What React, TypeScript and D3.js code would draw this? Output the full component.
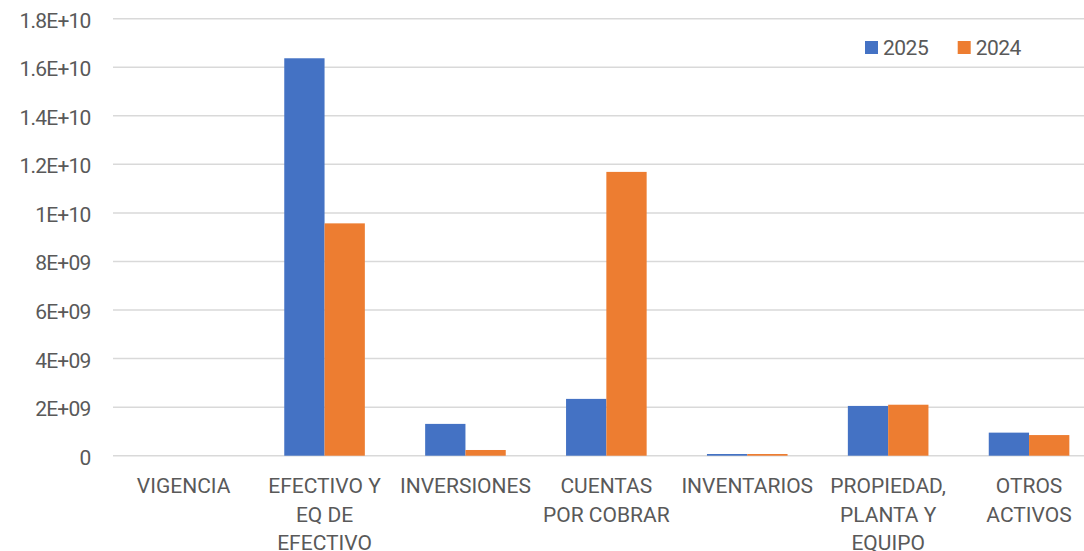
import React from 'react';
import * as d3 from 'd3';

const categories = [
  ['VIGENCIA'],
  ['EFECTIVO Y', 'EQ DE', 'EFECTIVO'],
  ['INVERSIONES'],
  ['CUENTAS', 'POR COBRAR'],
  ['INVENTARIOS'],
  ['PROPIEDAD,', 'PLANTA Y', 'EQUIPO'],
  ['OTROS', 'ACTIVOS'],
];
const series = ['2025', '2024'];
const values2025 = [0, 16.37e9, 1.31e9, 2.34e9, 0.07e9, 2.05e9, 0.95e9];
const values2024 = [0, 9.57e9, 0.235e9, 11.69e9, 0.07e9, 2.1e9, 0.85e9];
const yTicks = [0, 2e9, 4e9, 6e9, 8e9, 1e10, 1.2e10, 1.4e10, 1.6e10, 1.8e10];
const yTickLabels = ['0', '2E+09', '4E+09', '6E+09', '8E+09', '1E+10', '1.2E+10', '1.4E+10', '1.6E+10', '1.8E+10'];
const colors = ['#4472C4', '#ED7D31'];

const W = 1084;
const H = 551;
const FONT = 'Roboto, "Liberation Sans", Arial, sans-serif';

const App: React.FC = () => {
  // plot spans past the right edge of the picture, as in the original
  const x0 = d3.scaleBand<number>()
    .domain(d3.range(categories.length))
    .range([113.2, 1099.5])
    .paddingInner(0.428)
    .paddingOuter(0.214);
  const x1 = d3.scaleBand<string>()
    .domain(series)
    .range([0, x0.bandwidth()]);
  const y = d3.scaleLinear().domain([0, 1.8e10]).range([455.7, 18.7]);
  const color = d3.scaleOrdinal<string, string>().domain(series).range(colors);
  const data = [values2025, values2024];

  return (
    <svg width={W} height={H} style={{ position: 'absolute', left: 0, top: 0, background: '#fff' }}
      fontFamily={FONT}>
      {/* grid + y labels */}
      {yTicks.map((t, i) => (
        <g key={i}>
          <line x1={113} x2={W} y1={y(t)} y2={y(t)} stroke="#D9D9D9" strokeWidth={1.5} />
          <text x={90.5} y={y(t) + 9} textAnchor="end" fontSize={21} letterSpacing={-0.8} fill="#595959">
            {yTickLabels[i]}
          </text>
        </g>
      ))}
      {/* bars */}
      {categories.map((_, ci) => (
        <g key={ci} transform={`translate(${x0(ci)},0)`}>
          {series.map((s, si) => {
            const v = data[si][ci];
            if (v <= 0) return null;
            return (
              <rect key={s} x={x1(s)} width={x1.bandwidth()} y={y(v)} height={y(0) - y(v)} fill={color(s)} />
            );
          })}
        </g>
      ))}
      {/* category labels */}
      {categories.map((lines, ci) => (
        <text key={ci} textAnchor="middle" fontSize={21} fill="#595959">
          {lines.map((ln, li) => (
            <tspan key={li} x={(x0(ci) as number) + x0.bandwidth() / 2} y={493.3 + li * 28.4}>{ln}</tspan>
          ))}
        </text>
      ))}
      {/* legend */}
      {series.map((s, i) => (
        <g key={s} transform={`translate(${865 + i * 92.7},0)`}>
          <rect x={0} y={41} width={13} height={13} fill={color(s)} />
          <text x={18} y={54.5} fontSize={21} letterSpacing={-0.5} fill="#595959">{s}</text>
        </g>
      ))}
    </svg>
  );
};

export default App;
